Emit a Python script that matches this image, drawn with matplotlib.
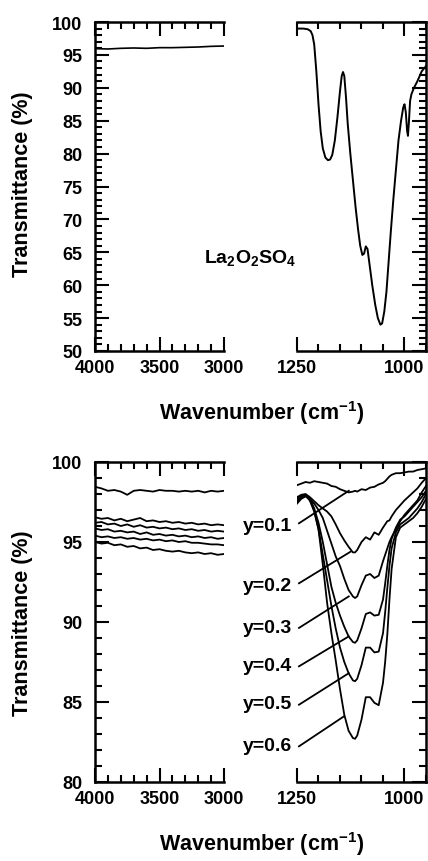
import matplotlib
matplotlib.use('Agg')
import matplotlib.pyplot as plt
from matplotlib.ticker import MultipleLocator

plt.rcParams['font.family'] = ['Liberation Sans', 'DejaVu Sans']
plt.rcParams['font.weight'] = 'bold'
plt.rcParams['mathtext.fontset'] = 'custom'
plt.rcParams['mathtext.rm'] = 'Liberation Sans:bold'
plt.rcParams['mathtext.bf'] = 'Liberation Sans:bold'
plt.rcParams['mathtext.it'] = 'Liberation Sans:bold'

# ---- top panel: La2O2SO4 ----
wn_hi = [4000, 3900, 3800, 3700, 3600, 3500, 3400, 3300, 3200, 3100, 3000]
t_hi = [95.95, 95.9, 96.0, 96.05, 96.0, 96.1, 96.1, 96.15, 96.2, 96.3, 96.35]

wn_top = [1250, 1235, 1225, 1218, 1214, 1210, 1205, 1200, 1195, 1190, 1184, 1178,
          1173, 1168, 1162, 1156, 1150, 1146, 1143, 1140, 1136, 1132, 1126, 1120,
          1114, 1108, 1103, 1098, 1094, 1090, 1086, 1081, 1075, 1068, 1062, 1056,
          1052, 1047, 1042, 1037, 1032, 1026, 1020, 1014, 1008, 1003, 1000, 997,
          994, 992, 990, 987, 984, 978, 970, 960, 950]
t_top = [99.0, 99.0, 98.9, 98.6, 98.0, 96.6, 92.5, 87.5, 83.4, 80.8, 79.4, 79.0,
         79.1, 79.8, 82.0, 85.5, 89.5, 91.8, 92.4, 91.8, 88.5, 84.5, 80.0, 76.0,
         72.0, 68.5, 66.0, 64.6, 64.8, 65.9, 65.5, 63.0, 60.0, 57.0, 55.0, 54.0,
         54.2, 56.0, 59.0, 63.5, 68.0, 73.0, 77.5, 82.0, 85.0, 87.0, 87.5, 86.3,
         83.5, 82.7, 84.5, 88.0, 89.0, 90.0, 91.0, 92.5, 93.3]

# ---- bottom panel: y = 0.1 ... 0.6 ----
wn_left = [4000, 3950, 3900, 3850, 3800, 3750, 3700, 3650, 3600, 3550, 3500,
           3450, 3400, 3350, 3300, 3250, 3200, 3150, 3100, 3050, 3000]
left_series = [
    [98.45, 98.35, 98.2, 98.25, 98.15, 97.95, 98.2, 98.25, 98.2, 98.15, 98.25,
     98.2, 98.2, 98.15, 98.2, 98.15, 98.2, 98.1, 98.2, 98.15, 98.2],
    [96.55, 96.45, 96.5, 96.35, 96.45, 96.3, 96.4, 96.5, 96.3, 96.35, 96.25,
     96.3, 96.2, 96.25, 96.15, 96.2, 96.1, 96.15, 96.05, 96.1, 96.05],
    [96.2, 96.25, 96.1, 96.15, 96.0, 96.1, 95.95, 96.05, 95.9, 95.95, 95.85,
     95.9, 95.8, 95.85, 95.75, 95.8, 95.7, 95.75, 95.65, 95.7, 95.65],
    [95.85, 95.75, 95.8, 95.65, 95.7, 95.6, 95.65, 95.5, 95.6, 95.45, 95.5,
     95.4, 95.45, 95.35, 95.4, 95.3, 95.35, 95.25, 95.3, 95.2, 95.25],
    [95.4, 95.3, 95.35, 95.25, 95.3, 95.2, 95.25, 95.15, 95.2, 95.1, 95.15,
     95.05, 95.1, 95.0, 95.05, 94.95, 94.95, 94.9, 94.85, 94.85, 94.8],
    [95.0, 94.9, 94.95, 94.8, 94.85, 94.7, 94.75, 94.6, 94.65, 94.5, 94.55,
     94.45, 94.4, 94.45, 94.35, 94.3, 94.35, 94.25, 94.3, 94.2, 94.25],
]

wn_r = [1250, 1240, 1230, 1220, 1210, 1200, 1190, 1180, 1170, 1160, 1150, 1140,
        1130, 1120, 1115, 1110, 1100, 1090, 1080, 1070, 1060, 1050, 1045, 1040,
        1035, 1030, 1020, 1010, 1000, 990, 980, 970, 960, 950]
y01 = [98.55, 98.65, 98.75, 98.7, 98.8, 98.75, 98.7, 98.65, 98.5, 98.45, 98.3, 98.2,
       98.1, 98.15, 98.2, 98.15, 98.3, 98.25, 98.4, 98.45, 98.6, 98.7, 98.8, 98.95,
       99.1, 99.2, 99.3, 99.3, 99.35, 99.4, 99.4, 99.5, 99.55, 99.6]
y02 = [97.8, 97.95, 98.0, 97.8, 97.55, 97.3, 97.1, 96.9, 96.6, 96.1, 95.55, 95.1,
       94.7, 94.35, 94.35, 94.5, 95.0, 95.3, 95.15, 95.6, 95.45, 95.9, 96.1, 96.3,
       96.35, 96.6, 97.0, 97.3, 97.6, 97.85, 98.1, 98.35, 98.7, 99.0]
y03 = [97.4, 97.7, 97.85, 97.7, 97.4, 97.0, 96.5, 95.7, 94.9, 94.1, 93.5, 92.7,
       92.0, 91.6, 91.5, 91.6, 92.3, 92.9, 93.0, 92.75, 92.9, 93.8, 94.2, 94.6,
       95.0, 95.3, 95.8, 96.3, 96.7, 97.0, 97.3, 97.6, 98.1, 98.5]
y04 = [97.7, 97.9, 97.95, 97.7, 97.1, 96.2, 95.0, 93.6, 92.2, 91.2, 90.4, 89.7,
       89.1, 88.75, 88.7, 88.85, 89.6, 90.5, 90.6, 90.4, 90.45, 91.4, 92.4, 93.5,
       94.5, 95.2, 95.9, 96.4, 96.6, 96.9, 97.2, 97.5, 97.8, 98.2]
y05 = [97.6, 97.8, 97.9, 97.6, 96.9, 95.8, 94.2, 92.6, 91.0, 89.6, 88.4, 87.5,
       86.8, 86.35, 86.3, 86.45, 87.3, 88.4, 88.4, 88.1, 88.15, 89.3, 90.6, 92.1,
       93.5, 94.6, 95.6, 96.1, 96.3, 96.5, 96.8, 97.1, 97.5, 98.0]
y06 = [97.5, 97.8, 97.9, 97.6, 97.0, 95.8, 93.6, 91.2, 89.3, 87.6, 85.8, 84.2,
       83.2, 82.75, 82.7, 82.9, 83.9, 85.3, 85.3, 84.95, 84.8, 86.2, 87.5, 89.2,
       91.4, 93.3, 95.3, 95.9, 96.1, 96.3, 96.5, 96.8, 97.2, 97.7]
right_series = [y01, y02, y03, y04, y05, y06]

labels = ['y=0.1', 'y=0.2', 'y=0.3', 'y=0.4', 'y=0.5', 'y=0.6']
label_t = [96.06, 92.31, 89.67, 87.31, 84.92, 82.31]
leader_start = [96.17, 92.42, 89.63, 87.23, 84.83, 82.23]
leader_end = [(1129.6, 98.2), (1125.7, 94.39), (1129.6, 91.6),
              (1129.6, 89.1), (1129.6, 86.8), (1141, 84.1)]

W, H = 428, 862
fig = plt.figure(figsize=(W / 100, H / 100), dpi=100)


def box(x0, x1, ytop, ybot):
    return [x0 / W, 1 - ybot / H, (x1 - x0) / W, (ybot - ytop) / H]


def style_left(ax, ylim, ymaj):
    ax.set_xlim(4000, 3000)
    ax.set_ylim(*ylim)
    ax.spines['right'].set_visible(False)
    ax.xaxis.set_major_locator(MultipleLocator(500))
    ax.xaxis.set_minor_locator(MultipleLocator(100))
    ax.yaxis.set_major_locator(MultipleLocator(ymaj))
    ax.yaxis.set_minor_locator(MultipleLocator(1))
    ax.tick_params(which='both', direction='in', top=True, bottom=True,
                   left=True, right=False, width=1.5, labelsize=13)
    ax.tick_params(which='major', length=10)
    ax.tick_params(which='minor', length=5)
    ax.tick_params(axis='x', pad=6)
    ax.tick_params(axis='y', pad=9)


def style_right(ax, ylim, ymaj):
    ax.set_xlim(1250, 950)
    ax.set_ylim(*ylim)
    ax.spines['left'].set_visible(False)
    ax.set_xticks([1250, 1000])
    ax.xaxis.set_minor_locator(MultipleLocator(50))
    ax.yaxis.set_major_locator(MultipleLocator(ymaj))
    ax.yaxis.set_minor_locator(MultipleLocator(1))
    ax.tick_params(which='both', direction='in', top=True, bottom=True,
                   left=False, right=True, labelleft=False, width=1.5,
                   labelsize=13)
    ax.tick_params(which='major', length=10)
    ax.tick_params(which='minor', length=5)
    ax.tick_params(axis='x', pad=6)


# top
ax1 = fig.add_axes(box(95, 224, 23, 352))
ax2 = fig.add_axes(box(297, 426, 23, 352))
# bottom
ax3 = fig.add_axes(box(95, 224, 463, 783))
ax4 = fig.add_axes(box(297, 426, 463, 783))

for ax in (ax1, ax2, ax3, ax4):
    for s in ax.spines.values():
        s.set_linewidth(1.8)

style_left(ax1, (50, 100), 5)
style_right(ax2, (50, 100), 5)
style_left(ax3, (80, 100), 5)
style_right(ax4, (80, 100), 5)

ax1.plot(wn_hi, t_hi, color='black', lw=1.2)
ax2.plot(wn_top, t_top, color='black', lw=1.4)

for s in left_series:
    ax3.plot(wn_left, s, color='black', lw=1.3)
for s in right_series:
    ax4.plot(wn_r, s, color='black', lw=1.3)

for lab, lt, ls, le in zip(labels, label_t, leader_start, leader_end):
    ax4.text(1261, lt, lab, ha='right', va='center', fontsize=14,
             fontweight='bold', clip_on=False)
    ax4.plot([1245.4, le[0]], [ls, le[1]], color='black', lw=1.3,
             clip_on=False)

fig.text(250 / W, 1 - 258 / H, r'$\mathbf{La_2O_2SO_4}$', ha='center',
         va='center', fontsize=14)

xlab = r'Wavenumber (cm$^{\mathbf{-1}}$)'
fig.text(262 / W, 1 - 413 / H, xlab, ha='center', va='center', fontsize=15.5)
fig.text(262 / W, 1 - 844 / H, xlab, ha='center', va='center', fontsize=15.5)
fig.text(23 / W, 1 - 184 / H, 'Transmittance (%)', rotation=90,
         ha='center', va='center', fontsize=15.5)
fig.text(23 / W, 1 - 623 / H, 'Transmittance (%)', rotation=90,
         ha='center', va='center', fontsize=15.5)

fig.savefig('out.png', dpi=100)
